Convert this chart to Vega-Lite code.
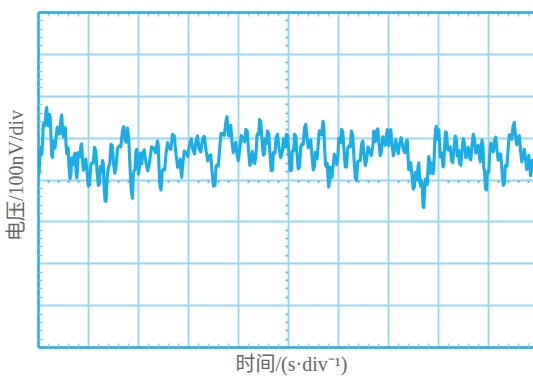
{
  "$schema": "https://vega.github.io/schema/vega-lite/v6.json",
  "width": 495,
  "height": 335,
  "autosize": "none",
  "padding": {"left": 38, "top": 12, "right": 0, "bottom": 29},
  "background": "white",
  "config": {"view": {"stroke": null}, "axis": {"labels": false, "ticks": false, "domain": false, "grid": false, "title": null}},
  "data": {"values": [
    {"t":0.00,"v":4.61},{"t":0.008,"v":4.65},{"t":0.015,"v":4.30},{"t":0.022,"v":4.14},{"t":0.03,"v":4.38},{"t":0.045,"v":4.76},{"t":0.06,"v":4.75},{"t":0.075,"v":4.60},{"t":0.09,"v":4.84},{"t":0.105,"v":5.30},
    {"t":0.12,"v":5.35},{"t":0.14,"v":5.29},{"t":0.16,"v":5.63},{"t":0.175,"v":5.72},{"t":0.19,"v":5.40},{"t":0.21,"v":5.28},{"t":0.23,"v":5.55},{"t":0.245,"v":5.48},{"t":0.26,"v":5.00},{"t":0.275,"v":4.57},
    {"t":0.29,"v":4.53},{"t":0.305,"v":4.92},{"t":0.32,"v":4.90},{"t":0.34,"v":4.75},{"t":0.36,"v":5.00},{"t":0.385,"v":5.25},{"t":0.41,"v":5.10},{"t":0.435,"v":5.09},{"t":0.46,"v":5.47},{"t":0.475,"v":5.54},
    {"t":0.49,"v":5.20},{"t":0.51,"v":5.02},{"t":0.53,"v":5.23},{"t":0.545,"v":5.24},{"t":0.56,"v":4.85},{"t":0.575,"v":4.61},{"t":0.59,"v":4.77},{"t":0.605,"v":4.74},{"t":0.62,"v":4.30},{"t":0.64,"v":4.02},
    {"t":0.66,"v":4.14},{"t":0.675,"v":4.52},{"t":0.69,"v":4.50},{"t":0.71,"v":4.36},{"t":0.73,"v":4.61},{"t":0.745,"v":4.63},{"t":0.76,"v":4.25},{"t":0.775,"v":4.04},{"t":0.79,"v":4.22},{"t":0.805,"v":4.64},
    {"t":0.82,"v":4.65},{"t":0.84,"v":4.55},{"t":0.86,"v":4.84},{"t":0.875,"v":4.85},{"t":0.89,"v":4.45},{"t":0.91,"v":4.22},{"t":0.93,"v":4.38},{"t":0.955,"v":4.49},{"t":0.98,"v":4.20},{"t":1.005,"v":3.84},
    {"t":1.03,"v":3.87},{"t":1.055,"v":4.34},{"t":1.08,"v":4.40},{"t":1.105,"v":4.39},{"t":1.13,"v":4.77},{"t":1.155,"v":4.69},{"t":1.18,"v":4.20},{"t":1.205,"v":3.86},{"t":1.23,"v":3.91},{"t":1.245,"v":4.31},
    {"t":1.26,"v":4.30},{"t":1.275,"v":4.18},{"t":1.29,"v":4.45},{"t":1.305,"v":4.38},{"t":1.32,"v":3.90},{"t":1.34,"v":3.49},{"t":1.36,"v":3.48},{"t":1.385,"v":4.09},{"t":1.41,"v":4.30},{"t":1.435,"v":4.37},
    {"t":1.46,"v":4.84},{"t":1.485,"v":4.82},{"t":1.51,"v":4.40},{"t":1.535,"v":4.15},{"t":1.56,"v":4.30},{"t":1.59,"v":4.75},{"t":1.62,"v":4.80},{"t":1.655,"v":4.78},{"t":1.69,"v":5.16},{"t":1.715,"v":5.26},
    {"t":1.74,"v":4.95},{"t":1.765,"v":4.89},{"t":1.79,"v":5.23},{"t":1.815,"v":4.97},{"t":1.84,"v":4.30},{"t":1.865,"v":3.73},{"t":1.89,"v":3.55},{"t":1.905,"v":4.08},{"t":1.92,"v":4.20},{"t":1.94,"v":4.25},
    {"t":1.96,"v":4.69},{"t":1.975,"v":4.72},{"t":1.99,"v":4.35},{"t":2.01,"v":4.13},{"t":2.03,"v":4.30},{"t":2.045,"v":4.63},{"t":2.06,"v":4.55},{"t":2.075,"v":4.38},{"t":2.09,"v":4.61},{"t":2.125,"v":4.71},
    {"t":2.16,"v":4.40},{"t":2.195,"v":4.21},{"t":2.23,"v":4.41},{"t":2.27,"v":4.78},{"t":2.31,"v":4.75},{"t":2.35,"v":4.64},{"t":2.39,"v":4.92},{"t":2.405,"v":4.81},{"t":2.42,"v":4.30},{"t":2.44,"v":3.83},
    {"t":2.46,"v":3.75},{"t":2.485,"v":4.20},{"t":2.51,"v":4.25},{"t":2.535,"v":4.23},{"t":2.56,"v":4.61},{"t":2.59,"v":4.88},{"t":2.62,"v":4.75},{"t":2.655,"v":4.72},{"t":2.69,"v":5.08},{"t":2.725,"v":5.04},
    {"t":2.76,"v":4.60},{"t":2.795,"v":4.29},{"t":2.83,"v":4.38},{"t":2.845,"v":4.49},{"t":2.86,"v":4.20},{"t":2.875,"v":4.05},{"t":2.89,"v":4.30},{"t":2.925,"v":4.68},{"t":2.96,"v":4.65},{"t":2.995,"v":4.55},
    {"t":3.03,"v":4.84},{"t":3.065,"v":4.97},{"t":3.10,"v":4.70},{"t":3.13,"v":4.61},{"t":3.16,"v":4.92},{"t":3.19,"v":5.04},{"t":3.22,"v":4.75},{"t":3.255,"v":4.66},{"t":3.29,"v":4.96},{"t":3.325,"v":5.03},
    {"t":3.36,"v":4.70},{"t":3.395,"v":4.44},{"t":3.43,"v":4.57},{"t":3.455,"v":4.59},{"t":3.48,"v":4.20},{"t":3.51,"v":3.84},{"t":3.54,"v":3.87},{"t":3.56,"v":4.31},{"t":3.58,"v":4.35},{"t":3.605,"v":4.32},
    {"t":3.63,"v":4.69},{"t":3.66,"v":5.10},{"t":3.69,"v":5.10},{"t":3.725,"v":5.05},{"t":3.76,"v":5.39},{"t":3.78,"v":5.50},{"t":3.80,"v":5.20},{"t":3.815,"v":5.04},{"t":3.83,"v":5.27},{"t":3.855,"v":5.29},
    {"t":3.88,"v":4.90},{"t":3.905,"v":4.64},{"t":3.93,"v":4.77},{"t":3.955,"v":4.89},{"t":3.98,"v":4.60},{"t":4.005,"v":4.45},{"t":4.03,"v":4.69},{"t":4.065,"v":5.05},{"t":4.10,"v":5.00},{"t":4.13,"v":4.90},
    {"t":4.16,"v":5.20},{"t":4.185,"v":5.15},{"t":4.21,"v":4.70},{"t":4.235,"v":4.34},{"t":4.26,"v":4.38},{"t":4.285,"v":4.67},{"t":4.31,"v":4.55},{"t":4.335,"v":4.38},{"t":4.36,"v":4.61},{"t":4.38,"v":5.06},
    {"t":4.40,"v":5.10},{"t":4.415,"v":5.07},{"t":4.43,"v":5.43},{"t":4.455,"v":5.39},{"t":4.48,"v":4.95},{"t":4.505,"v":4.58},{"t":4.53,"v":4.61},{"t":4.545,"v":4.98},{"t":4.56,"v":4.95},{"t":4.575,"v":4.86},
    {"t":4.59,"v":5.16},{"t":4.615,"v":5.08},{"t":4.64,"v":4.60},{"t":4.665,"v":4.21},{"t":4.69,"v":4.22},{"t":4.705,"v":4.64},{"t":4.72,"v":4.65},{"t":4.74,"v":4.63},{"t":4.76,"v":5.00},{"t":4.79,"v":5.08},
    {"t":4.82,"v":4.75},{"t":4.855,"v":4.52},{"t":4.89,"v":4.69},{"t":4.91,"v":4.97},{"t":4.93,"v":4.85},{"t":4.95,"v":4.77},{"t":4.97,"v":5.08},{"t":4.995,"v":5.04},{"t":5.02,"v":4.60},{"t":5.045,"v":4.21},
    {"t":5.07,"v":4.22},{"t":5.085,"v":4.66},{"t":5.10,"v":4.70},{"t":5.115,"v":4.69},{"t":5.13,"v":5.08},{"t":5.155,"v":5.04},{"t":5.18,"v":4.60},{"t":5.205,"v":4.25},{"t":5.23,"v":4.30},{"t":5.255,"v":4.78},
    {"t":5.28,"v":4.85},{"t":5.305,"v":4.84},{"t":5.33,"v":5.23},{"t":5.355,"v":5.32},{"t":5.38,"v":5.00},{"t":5.405,"v":4.76},{"t":5.43,"v":4.92},{"t":5.455,"v":4.94},{"t":5.48,"v":4.55},{"t":5.505,"v":4.23},
    {"t":5.53,"v":4.30},{"t":5.545,"v":4.65},{"t":5.56,"v":4.60},{"t":5.58,"v":4.49},{"t":5.60,"v":4.77},{"t":5.625,"v":5.16},{"t":5.65,"v":5.15},{"t":5.675,"v":5.07},{"t":5.70,"v":5.39},{"t":5.715,"v":5.30},
    {"t":5.73,"v":4.80},{"t":5.75,"v":4.35},{"t":5.77,"v":4.30},{"t":5.785,"v":4.38},{"t":5.80,"v":4.05},{"t":5.815,"v":3.82},{"t":5.83,"v":3.98},{"t":5.845,"v":4.29},{"t":5.86,"v":4.20},{"t":5.88,"v":4.05},
    {"t":5.90,"v":4.30},{"t":5.925,"v":4.60},{"t":5.95,"v":4.50},{"t":5.975,"v":4.36},{"t":6.00,"v":4.61},{"t":6.015,"v":4.98},{"t":6.03,"v":4.95},{"t":6.05,"v":4.88},{"t":6.07,"v":5.20},{"t":6.095,"v":5.15},
    {"t":6.12,"v":4.70},{"t":6.145,"v":4.30},{"t":6.17,"v":4.30},{"t":6.195,"v":4.75},{"t":6.22,"v":4.80},{"t":6.245,"v":4.78},{"t":6.27,"v":5.16},{"t":6.295,"v":5.03},{"t":6.32,"v":4.50},{"t":6.345,"v":4.04},
    {"t":6.37,"v":3.98},{"t":6.395,"v":4.42},{"t":6.42,"v":4.45},{"t":6.445,"v":4.45},{"t":6.47,"v":4.84},{"t":6.495,"v":4.92},{"t":6.52,"v":4.60},{"t":6.545,"v":4.33},{"t":6.57,"v":4.45},{"t":6.60,"v":4.78},
    {"t":6.63,"v":4.70},{"t":6.665,"v":4.57},{"t":6.70,"v":4.84},{"t":6.715,"v":5.15},{"t":6.73,"v":5.05},{"t":6.75,"v":4.91},{"t":6.77,"v":5.16},{"t":6.795,"v":5.21},{"t":6.82,"v":4.85},{"t":6.845,"v":4.57},
    {"t":6.87,"v":4.69},{"t":6.895,"v":5.02},{"t":6.92,"v":4.95},{"t":6.945,"v":4.82},{"t":6.97,"v":5.08},{"t":6.985,"v":5.19},{"t":7.00,"v":4.90},{"t":7.015,"v":4.81},{"t":7.03,"v":5.12},{"t":7.055,"v":5.19},
    {"t":7.08,"v":4.85},{"t":7.105,"v":4.57},{"t":7.13,"v":4.69},{"t":7.155,"v":4.95},{"t":7.18,"v":4.80},{"t":7.205,"v":4.62},{"t":7.23,"v":4.84},{"t":7.265,"v":5.00},{"t":7.30,"v":4.75},{"t":7.335,"v":4.64},
    {"t":7.37,"v":4.92},{"t":7.385,"v":4.94},{"t":7.40,"v":4.55},{"t":7.415,"v":4.23},{"t":7.43,"v":4.30},{"t":7.455,"v":4.40},{"t":7.48,"v":4.10},{"t":7.505,"v":3.77},{"t":7.53,"v":3.83},{"t":7.545,"v":4.17},
    {"t":7.56,"v":4.10},{"t":7.58,"v":4.00},{"t":7.60,"v":4.30},{"t":7.615,"v":4.40},{"t":7.63,"v":4.10},{"t":7.65,"v":3.84},{"t":7.67,"v":3.98},{"t":7.685,"v":3.87},{"t":7.70,"v":3.36},{"t":7.715,"v":3.33},
    {"t":7.73,"v":3.70},{"t":7.75,"v":4.01},{"t":7.77,"v":3.91},{"t":7.785,"v":3.88},{"t":7.80,"v":4.25},{"t":7.815,"v":4.55},{"t":7.83,"v":4.45},{"t":7.845,"v":4.15},{"t":7.86,"v":4.25},{"t":7.88,"v":4.40},
    {"t":7.90,"v":4.14},{"t":7.915,"v":4.25},{"t":7.93,"v":4.75},{"t":7.95,"v":5.21},{"t":7.97,"v":5.27},{"t":7.985,"v":4.96},{"t":8.00,"v":5.05},{"t":8.015,"v":5.19},{"t":8.03,"v":4.92},{"t":8.045,"v":4.54},
    {"t":8.06,"v":4.55},{"t":8.08,"v":4.63},{"t":8.10,"v":4.30},{"t":8.115,"v":4.33},{"t":8.13,"v":4.75},{"t":8.15,"v":5.14},{"t":8.17,"v":5.12},{"t":8.195,"v":4.71},{"t":8.22,"v":4.70},{"t":8.245,"v":4.78},
    {"t":8.27,"v":4.45},{"t":8.295,"v":4.40},{"t":8.32,"v":4.75},{"t":8.345,"v":5.04},{"t":8.37,"v":4.92},{"t":8.385,"v":4.56},{"t":8.40,"v":4.60},{"t":8.415,"v":4.69},{"t":8.43,"v":4.38},{"t":8.455,"v":4.34},
    {"t":8.48,"v":4.70},{"t":8.505,"v":4.97},{"t":8.53,"v":4.84},{"t":8.555,"v":4.52},{"t":8.58,"v":4.60},{"t":8.605,"v":4.77},{"t":8.63,"v":4.53},{"t":8.655,"v":4.47},{"t":8.68,"v":4.80},{"t":8.705,"v":5.08},
    {"t":8.73,"v":4.96},{"t":8.755,"v":4.63},{"t":8.78,"v":4.70},{"t":8.805,"v":4.82},{"t":8.83,"v":4.53},{"t":8.845,"v":4.42},{"t":8.86,"v":4.70},{"t":8.88,"v":4.94},{"t":8.90,"v":4.77},{"t":8.915,"v":4.29},
    {"t":8.93,"v":4.20},{"t":8.95,"v":3.78},{"t":8.97,"v":3.75},{"t":8.985,"v":4.18},{"t":9.00,"v":4.20},{"t":9.015,"v":4.17},{"t":9.03,"v":4.53},{"t":9.055,"v":4.87},{"t":9.08,"v":4.80},{"t":9.105,"v":4.66},
    {"t":9.13,"v":4.92},{"t":9.155,"v":5.01},{"t":9.18,"v":4.70},{"t":9.205,"v":4.46},{"t":9.23,"v":4.61},{"t":9.255,"v":4.61},{"t":9.28,"v":4.20},{"t":9.305,"v":3.86},{"t":9.33,"v":3.91},{"t":9.345,"v":4.33},
    {"t":9.36,"v":4.35},{"t":9.38,"v":4.32},{"t":9.40,"v":4.69},{"t":9.425,"v":5.07},{"t":9.45,"v":5.05},{"t":9.475,"v":4.96},{"t":9.50,"v":5.27},{"t":9.525,"v":5.36},{"t":9.55,"v":5.05},{"t":9.575,"v":4.83},
    {"t":9.60,"v":5.00},{"t":9.625,"v":5.05},{"t":9.65,"v":4.70},{"t":9.675,"v":4.42},{"t":9.70,"v":4.53},{"t":9.725,"v":4.72},{"t":9.75,"v":4.50},{"t":9.775,"v":4.24},{"t":9.80,"v":4.38},{"t":9.815,"v":4.57},
    {"t":9.83,"v":4.35},{"t":9.85,"v":4.09},{"t":9.87,"v":4.22},{"t":9.885,"v":4.46},{"t":9.90,"v":4.30}
  ]},
  "resolve": {"axis": {"x": "independent", "y": "independent"}},
  "layer": [
    {
      "mark": {"type": "line", "opacity": 0},
      "encoding": {
        "x": {"field": "t", "type": "quantitative", "scale": {"domain": [0, 9.9], "nice": false, "zero": false},
          "axis": {"orient": "bottom", "values": [0,1,2,3,4,5,6,7,8,9], "grid": true, "gridColor": "#95d7f3", "gridWidth": 1.8, "domain": true, "domainColor": "#22aee8", "domainWidth": 2.5,
            "title": "时间/(s·div⁻¹)", "titleFont": "Liberation Serif, Noto Sans CJK SC", "titleFontSize": 20, "titleFontWeight": "normal", "titleColor": "#666666", "titlePadding": 7, "titleX": 253, "titleAlign": "center"}},
        "y": {"field": "v", "type": "quantitative", "scale": {"domain": [0, 8], "nice": false, "zero": false},
          "axis": {"orient": "left", "values": [0,1,2,3,4,5,6,7,8], "grid": true, "gridColor": "#95d7f3", "gridWidth": 1.8, "domain": true, "domainColor": "#22aee8", "domainWidth": 2.5,
            "title": "电压/100nV/div", "titleFont": "Liberation Serif, Noto Sans CJK SC", "titleFontSize": 20, "titleFontWeight": "normal", "titleColor": "#666666", "titlePadding": 12, "titleAlign": "center", "titleY": 163}}
      }
    },
    {
      "mark": {"type": "line", "opacity": 0},
      "encoding": {
        "x": {"field": "t", "type": "quantitative",
          "axis": {"orient": "top", "values": [0.2,0.4,0.6,0.8,1.2,1.4,1.6,1.8,2.2,2.4,2.6,2.8,3.2,3.4,3.6,3.8,4.2,4.4,4.6,4.8,5.2,5.4,5.6,5.8,6.2,6.4,6.6,6.8,7.2,7.4,7.6,7.8,8.2,8.4,8.6,8.8,9.2,9.4,9.6,9.8], "ticks": true, "tickSize": -4, "tickColor": "#7fcdf0", "tickWidth": 1.5, "domain": true, "domainColor": "#22aee8", "domainWidth": 2.5}},
        "y": {"field": "v", "type": "quantitative",
          "axis": {"orient": "left", "values": [0.2,0.4,0.6,0.8,1.2,1.4,1.6,1.8,2.2,2.4,2.6,2.8,3.2,3.4,3.6,3.8,4.2,4.4,4.6,4.8,5.2,5.4,5.6,5.8,6.2,6.4,6.6,6.8,7.2,7.4,7.6,7.8], "ticks": true, "tickSize": -4, "tickColor": "#7fcdf0", "tickWidth": 1.5}}
      }
    },
    {
      "mark": {"type": "line", "opacity": 0},
      "encoding": {
        "x": {"field": "t", "type": "quantitative",
          "axis": {"orient": "bottom", "values": [0.2,0.4,0.6,0.8,1.2,1.4,1.6,1.8,2.2,2.4,2.6,2.8,3.2,3.4,3.6,3.8,4.2,4.4,4.6,4.8,5.2,5.4,5.6,5.8,6.2,6.4,6.6,6.8,7.2,7.4,7.6,7.8,8.2,8.4,8.6,8.8,9.2,9.4,9.6,9.8], "ticks": true, "tickSize": -4, "tickColor": "#7fcdf0", "tickWidth": 1.5}},
        "y": {"field": "v", "type": "quantitative",
          "axis": {"orient": "left", "offset": -250, "values": [0.2,0.4,0.6,0.8,1.2,1.4,1.6,1.8,2.2,2.4,2.6,2.8,3.2,3.4,3.6,3.8,4.2,4.4,4.6,4.8,5.2,5.4,5.6,5.8,6.2,6.4,6.6,6.8,7.2,7.4,7.6,7.8], "ticks": true, "tickSize": 3, "tickColor": "#5fc3ee", "tickWidth": 2}}
      }
    },
    {
      "mark": {"type": "line", "opacity": 0},
      "encoding": {
        "x": {"field": "t", "type": "quantitative",
          "axis": {"orient": "bottom", "offset": -167.5, "values": [0.2,0.4,0.6,0.8,1.2,1.4,1.6,1.8,2.2,2.4,2.6,2.8,3.2,3.4,3.6,3.8,4.2,4.4,4.6,4.8,5.2,5.4,5.6,5.8,6.2,6.4,6.6,6.8,7.2,7.4,7.6,7.8,8.2,8.4,8.6,8.8,9.2,9.4,9.6,9.8], "ticks": true, "tickSize": 3, "tickColor": "#5fc3ee", "tickWidth": 2}},
        "y": {"field": "v", "type": "quantitative", "axis": null}
      }
    },
    {
      "mark": {"type": "line", "color": "#1aade6", "strokeWidth": 3.1, "clip": true, "strokeJoin": "round"},
      "encoding": {
        "x": {"field": "t", "type": "quantitative", "axis": null},
        "y": {"field": "v", "type": "quantitative", "axis": null}
      }
    }
  ]
}
